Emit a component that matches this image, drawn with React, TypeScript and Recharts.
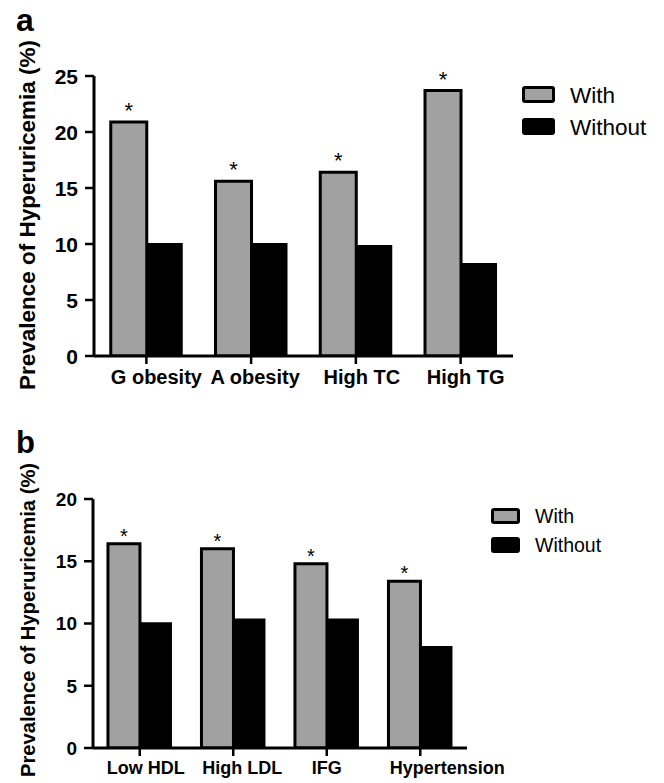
import React from 'react';
import { Bar, BarChart, LabelList, Legend, XAxis, YAxis } from 'recharts';

const categoriesA = ['G obesity', 'A obesity', 'High TC', 'High TG'];
const withA = [20.9, 15.6, 16.4, 23.7];
const withoutA = [10.1, 10.1, 9.9, 8.3];
const ticksA = [0, 5, 10, 15, 20, 25];

const categoriesB = ['Low HDL', 'High LDL', 'IFG', 'Hypertension'];
const withB = [16.4, 16.0, 14.8, 13.4];
const withoutB = [10.1, 10.4, 10.4, 8.2];
const ticksB = [0, 5, 10, 15, 20];

const seriesNames = ['With', 'Without'];
const starLabel = '*';

const FONT = '"Liberation Sans", Arial, Helvetica, sans-serif';
const GRAY = '#a1a1a1';

interface PanelProps {
  top: number;
  height: number;
  letter: string;
  categories: string[];
  withValues: number[];
  withoutValues: number[];
  ticks: number[];
  margin: { top: number; right: number; bottom: number; left: number };
  yWidth: number;
  xHeight: number;
  tickFont: number;
  xFont: number;
  xBaseline: number;
  labelNudge: number[];
  yLabelFont: number;
  yLabelCenter: number;
  letterBaseline: number;
  letterFont: number;
  starFont: number;
  starLift: number;
  legend: { left: number; top: number; boxW: number; boxH: number; pitch: number; textX: number; font: number };
}

function makeXTick(categories: string[], nudge: number[], font: number, baseline: number) {
  return (props: any) => {
    const { x, y, payload } = props;
    const i = categories.indexOf(payload.value);
    return (
      <text
        x={x + (nudge[i] ?? 0)}
        y={y + baseline}
        textAnchor="middle"
        fontFamily={FONT}
        fontWeight="bold"
        fontSize={font}
        fill="#000"
      >
        {payload.value}
      </text>
    );
  };
}

function makeYTick(font: number) {
  return (props: any) => {
    const { x, y, payload } = props;
    return (
      <text x={x} y={y} dy="0.36em" textAnchor="end" fontFamily={FONT} fontWeight="bold" fontSize={font} fill="#000">
        {payload.value}
      </text>
    );
  };
}

function Panel(p: PanelProps) {
  const data = p.categories.map((name, i) => ({
    name,
    with: p.withValues[i],
    without: p.withoutValues[i],
  }));

  const renderStar = (props: any) => {
    const { x, y, width } = props;
    return (
      <text x={x + width / 2} y={y - p.starLift} textAnchor="middle" fontFamily={FONT} fontSize={p.starFont} fill="#000">
        {starLabel}
      </text>
    );
  };

  const renderLegend = () => {
    const lg = p.legend;
    return (
      <svg width={140} height={lg.pitch * 2 + 10} style={{ display: 'block', overflow: 'visible' }}>
        {seriesNames.map((n, i) => (
          <g key={n}>
            <rect
              x={1.5}
              y={1.5 + i * lg.pitch}
              width={lg.boxW - 3}
              height={lg.boxH - 3}
              fill={i === 0 ? GRAY : '#000'}
              stroke="#000"
              strokeWidth={3}
              rx={1.5}
            />
            <text
              x={lg.textX}
              y={i * lg.pitch + lg.boxH / 2}
              dy="0.36em"
              fontFamily={FONT}
              fontSize={lg.font}
              fill="#000"
            >
              {n}
            </text>
          </g>
        ))}
      </svg>
    );
  };

  const renderYLabel = (props: any) => {
    const vb = props.viewBox;
    const cx = vb.x + 35;
    const cy = p.yLabelCenter;
    return (
      <text
        x={cx}
        y={cy}
        transform={`rotate(-90, ${cx}, ${cy})`}
        textAnchor="middle"
        fontFamily={FONT}
        fontWeight="bold"
        fontSize={p.yLabelFont}
        fill="#000"
      >
        Prevalence of Hyperuricemia (%)
      </text>
    );
  };

  return (
    <div style={{ position: 'absolute', left: 0, top: p.top, width: 664, height: p.height }}>
      <div
        style={{
          position: 'absolute',
          left: 16,
          top: p.letterBaseline - p.letterFont * 0.9,
          fontFamily: FONT,
          fontWeight: 'bold',
          fontSize: p.letterFont,
          lineHeight: `${p.letterFont}px`,
          height: p.letterFont,
        }}
      >
        {p.letter}
      </div>
      <BarChart
        width={664}
        height={p.height}
        data={data}
        margin={p.margin}
        barCategoryGap="16%"
        barGap={0}
      >
        <XAxis
          dataKey="name"
          height={p.xHeight}
          axisLine={{ stroke: '#000', strokeWidth: 3 }}
          tickLine={{ stroke: '#000', strokeWidth: 2.5 }}
          tickSize={8}
          tickMargin={2}
          interval={0}
          tick={makeXTick(p.categories, p.labelNudge, p.xFont, p.xBaseline)}
        />
        <YAxis
          domain={[0, p.ticks[p.ticks.length - 1]]}
          ticks={p.ticks}
          width={p.yWidth}
          axisLine={{ stroke: '#000', strokeWidth: 3 }}
          tickLine={{ stroke: '#000', strokeWidth: 2.5 }}
          tickSize={9}
          tickMargin={7}
          tick={makeYTick(p.tickFont)}
          label={renderYLabel}
          allowDataOverflow
        />
        <Legend
          verticalAlign="middle"
          align="center"
          layout="horizontal"
          content={renderLegend}
          wrapperStyle={{ position: 'absolute', left: p.legend.left, top: p.legend.top, width: 140, height: p.legend.pitch * 2 + 10 }}
        />
        <Bar dataKey="with" name={seriesNames[0]} fill={GRAY} stroke="#000" strokeWidth={3} isAnimationActive={false}>
          <LabelList dataKey="with" content={renderStar} />
        </Bar>
        <Bar dataKey="without" name={seriesNames[1]} fill="#000" isAnimationActive={false} />
      </BarChart>
    </div>
  );
}

export default function App() {
  return (
    <div style={{ position: 'absolute', left: 0, top: 0, width: 664, height: 783, background: '#fff', overflow: 'hidden' }}>
      <Panel
        top={0}
        height={400}
        letter="a"
        categories={categoriesA}
        withValues={withA}
        withoutValues={withoutA}
        ticks={ticksA}
        margin={{ top: 76, right: 151, bottom: 0, left: 0 }}
        yWidth={94}
        xHeight={44}
        tickFont={21}
        xFont={20}
        xBaseline={18}
        labelNudge={[10, 4, 6, 5]}
        yLabelFont={22.5}
        yLabelCenter={215}
        letterBaseline={33}
        letterFont={32}
        starFont={22}
        starLift={4}
        legend={{ left: 522, top: 86, boxW: 33, boxH: 17, pitch: 32, textX: 48, font: 22.5 }}
      />
      <Panel
        top={400}
        height={383}
        letter="b"
        categories={categoriesB}
        withValues={withB}
        withoutValues={withoutB}
        ticks={ticksB}
        margin={{ top: 99, right: 197, bottom: 0, left: 0 }}
        yWidth={93}
        xHeight={35}
        tickFont={19}
        xFont={18}
        xBaseline={16}
        labelNudge={[6, 9, 0, 27]}
        yLabelFont={20.2}
        yLabelCenter={220}
        letterBaseline={55}
        letterFont={31}
        starFont={20}
        starLift={1}
        legend={{ left: 491, top: 108, boxW: 29, boxH: 16, pitch: 29, textX: 44, font: 19.5 }}
      />
    </div>
  );
}
